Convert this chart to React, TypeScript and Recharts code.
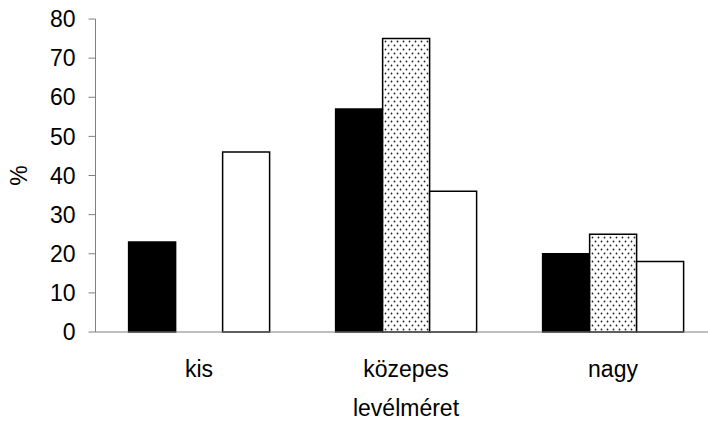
import { Bar, BarChart, XAxis, YAxis } from "recharts";

const categories = ["kis", "közepes", "nagy"];
const blackValues = [23, 57, 20];
const dottedValues = [0, 75, 25];
const whiteValues = [46, 36, 18];
const yTicks = [0, 10, 20, 30, 40, 50, 60, 70, 80];
// category boundaries, used only for the little ticks under the x axis
const categoryEdges = [0, 1, 2, 3];

const data = categories.map((name, i) => ({
  name,
  black: blackValues[i],
  dotted: dottedValues[i],
  white: whiteValues[i],
}));

const AXIS_GRAY = "#808080";
const FONT = "'Liberation Sans', Arial, sans-serif";
const FS = 23;

export default function App() {
  return (
    <div
      style={{
        position: "absolute",
        left: 0,
        top: 0,
        width: 708,
        height: 423,
        overflow: "hidden",
        background: "#fff",
      }}
    >
      <BarChart
        width={720}
        height={423}
        data={data}
        margin={{ top: 19, right: 3.5, bottom: 0, left: 0 }}
        barCategoryGap="16%"
        barGap={0}
        style={{ fontFamily: FONT }}
      >
        <defs>
          <pattern id="dots" width={6} height={8} patternUnits="userSpaceOnUse">
            <rect width={6} height={8} fill="#fff" />
            <circle cx={1.5} cy={1.5} r={0.9} fill="#222" />
            <circle cx={4.5} cy={5.5} r={0.9} fill="#222" />
          </pattern>
        </defs>
        <XAxis
          xAxisId="edges"
          type="number"
          domain={[0, 3]}
          ticks={categoryEdges}
          allowDataOverflow
          height={0}
          axisLine={false}
          tick={false}
          tickSize={7}
          tickLine={{ stroke: AXIS_GRAY }}
        />
        <XAxis
          xAxisId="cat"
          dataKey="name"
          height={91}
          tickLine={false}
          tickSize={0}
          tickMargin={29}
          axisLine={{ stroke: AXIS_GRAY }}
          tick={{ fill: "#000", fontSize: FS }}
          label={{
            value: "levélméret",
            position: "insideBottom",
            offset: 7,
            fill: "#000",
            fontSize: FS,
          }}
        />
        <YAxis
          width={95.5}
          domain={[0, 80]}
          ticks={yTicks}
          interval={0}
          tickSize={7}
          tickMargin={13}
          axisLine={{ stroke: AXIS_GRAY }}
          tickLine={{ stroke: AXIS_GRAY }}
          tick={{ fill: "#000", fontSize: FS }}
          label={{
            value: "%",
            angle: -90,
            position: "insideLeft",
            offset: 19,
            fill: "#000",
            fontSize: FS,
            style: { textAnchor: "middle" },
          }}
        />
        <Bar
          xAxisId="cat"
          dataKey="black"
          fill="#000"
          stroke="#000"
          strokeWidth={1.5}
          isAnimationActive={false}
        />
        <Bar
          xAxisId="cat"
          dataKey="dotted"
          fill="url(#dots)"
          stroke="#000"
          strokeWidth={1.5}
          isAnimationActive={false}
        />
        <Bar
          xAxisId="cat"
          dataKey="white"
          fill="#fff"
          stroke="#000"
          strokeWidth={1.5}
          isAnimationActive={false}
        />
      </BarChart>
    </div>
  );
}
